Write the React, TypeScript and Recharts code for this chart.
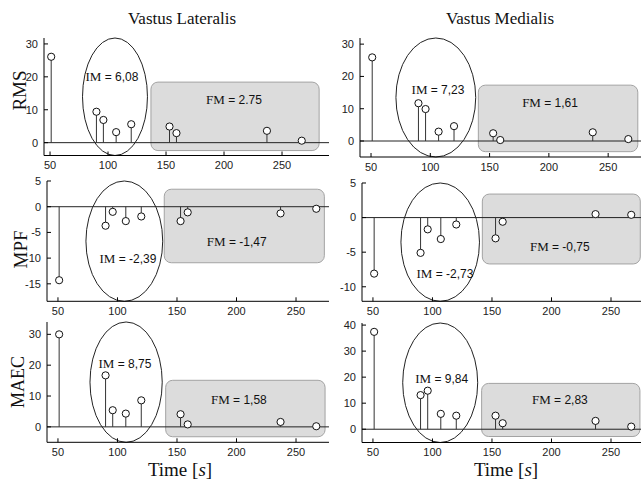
import React from "react";
import {
  ComposedChart,
  ReferenceArea,
  ReferenceDot,
  ReferenceLine,
  Scatter,
  XAxis,
  YAxis,
} from "recharts";

// time of each measurement [s]
const TIMES = [51, 90, 96, 107, 120, 153, 159, 237, 267];

const RMS_VL = [26.1, 9.4, 6.9, 3.2, 5.6, 4.9, 2.9, 3.6, 0.6];
const RMS_VM = [25.9, 11.7, 9.9, 2.9, 4.6, 2.4, 0.3, 2.7, 0.6];
const MPF_VL = [-14.3, -3.7, -1.0, -2.8, -1.9, -2.8, -1.1, -1.3, -0.4];
const MPF_VM = [-8.1, -5.1, -1.7, -3.1, -1.0, -3.0, -0.6, 0.5, 0.4];
const MAEC_VL = [30, 16.7, 5.4, 4.3, 8.6, 4.1, 0.8, 1.6, 0.2];
const MAEC_VM = [37.4, 13.1, 14.8, 5.9, 5.2, 5.2, 2.3, 3.2, 1.0];

const X_TICKS = [50, 100, 150, 200, 250];
const Y_TICKS_POS = [0, 10, 20, 30];
const Y_TICKS_MAEC_VM = [0, 10, 20, 30, 40];
const Y_TICKS_MPF_VL = [-15, -10, -5, 0, 5];
const Y_TICKS_MPF_VM = [-10, -5, 0, 5];

const IM_VALUES = ["6,08", "7,23", "-2,39", "-2,73", "8,75", "9,84"];
const FM_VALUES = ["2.75", "1,61", "-1,47", "-0,75", "1,58", "2,83"];

const SERIF = "'Liberation Serif', 'Times New Roman', serif";
const SANS = "'Liberation Sans', Arial, sans-serif";

type Box = { l: number; t: number; r: number; b: number };
type Panel = {
  values: number[];
  box: Box;
  xDom: [number, number];
  yDom: [number, number];
  yTicks: number[];
  ell: [number, number];
  rect: [number, number, number, number];
  imPos: [number, number];
  fmPos: [number, number];
  im: string;
  fm: string;
};

const PANELS: Panel[] = [
  {
    values: RMS_VL,
    box: { l: 44, t: 38, r: 329, b: 155.5 },
    xDom: [44.8, 290.5],
    yDom: [-3.9, 31.8],
    yTicks: Y_TICKS_POS,
    ell: [78, 134],
    rect: [137, 282, -2.4, 18.4],
    imPos: [103.4, 20],
    fmPos: [208.6, 13],
    im: IM_VALUES[0],
    fm: FM_VALUES[0],
  },
  {
    values: RMS_VM,
    box: { l: 360, t: 38, r: 641, b: 157 },
    xDom: [40.7, 277.7],
    yDom: [-4.95, 31.9],
    yTicks: Y_TICKS_POS,
    ell: [71, 138.3],
    rect: [140.5, 275, -3.3, 17.3],
    imPos: [106.5, 16.1],
    fmPos: [201, 11.8],
    im: IM_VALUES[1],
    fm: FM_VALUES[1],
  },
  {
    values: MPF_VL,
    box: { l: 47, t: 180.7, r: 329, b: 301 },
    xDom: [40.8, 277.7],
    yDom: [-18.4, 5],
    yTicks: Y_TICKS_MPF_VL,
    ell: [73.5, 138],
    rect: [139.3, 273.8, -10.9, 3.4],
    imPos: [108.8, -10],
    fmPos: [200.2, -6.7],
    im: IM_VALUES[2],
    fm: FM_VALUES[2],
  },
  {
    values: MPF_VM,
    box: { l: 362, t: 182.7, r: 641, b: 301 },
    xDom: [40.8, 275.2],
    yDom: [-12.1, 5],
    yTicks: Y_TICKS_MPF_VM,
    ell: [73.5, 139.5],
    rect: [141.9, 274.6, -6.7, 3.4],
    imPos: [110.5, -8.1],
    fmPos: [207, -4.1],
    im: IM_VALUES[3],
    fm: FM_VALUES[3],
  },
  {
    values: MAEC_VL,
    box: { l: 47, t: 321.7, r: 329, b: 442 },
    xDom: [40.8, 277.7],
    yDom: [-5, 34],
    yTicks: Y_TICKS_POS,
    ell: [76.9, 137.6],
    rect: [140.5, 274.4, -3.2, 15.1],
    imPos: [106.3, 20.5],
    fmPos: [202, 9],
    im: IM_VALUES[4],
    fm: FM_VALUES[4],
  },
  {
    values: MAEC_VM,
    box: { l: 362, t: 323, r: 641, b: 442.5 },
    xDom: [40.8, 275.2],
    yDom: [-5.1, 40.8],
    yTicks: Y_TICKS_MAEC_VM,
    ell: [75, 138],
    rect: [141.3, 274.3, -2.8, 17.6],
    imPos: [107.7, 19.5],
    fmPos: [207, 11.6],
    im: IM_VALUES[5],
    fm: FM_VALUES[5],
  },
];

const LeftTick = (p: any) => (
  <g>
    <line x1={p.x} x2={p.x + 4} y1={p.y} y2={p.y} stroke="#000" />
    <text x={p.x - 6} y={p.y} dy="0.35em" textAnchor="end" fontSize={11} fontFamily={SANS} fill="#222">
      {p.payload.value}
    </text>
  </g>
);
const RightTick = (p: any) => <line x1={p.x} x2={p.x - 4} y1={p.y} y2={p.y} stroke="#000" />;
const BottomTick = (p: any) => (
  <g>
    <line x1={p.x} x2={p.x} y1={p.y} y2={p.y - 4} stroke="#000" />
    <text x={p.x} y={p.y + 10} dy="0.35em" textAnchor="middle" fontSize={11} fontFamily={SANS} fill="#222">
      {p.payload.value}
    </text>
  </g>
);
const TopTick = (p: any) => <line x1={p.x} x2={p.x} y1={p.y} y2={p.y + 4} stroke="#000" />;

function Label({ cx, cy, name, value }: any) {
  return (
    <text x={cx} y={cy} dy="0.35em" textAnchor="middle" fontSize={13} fill="#111">
      <tspan fontFamily={SERIF}>{name}</tspan>
      <tspan fontFamily={SANS} fontSize={12}>{" = " + value}</tspan>
    </text>
  );
}

function StemPanel({ panel }: { panel: Panel }) {
  const { box } = panel;
  const width = box.r - box.l + 42;
  const height = box.b - box.t + 32;
  const data = TIMES.map((t, i) => ({ t, v: panel.values[i] }));
  return (
    <div style={{ position: "absolute", left: box.l - 40, top: box.t - 8 }}>
      <ComposedChart width={width} height={height} data={data} margin={{ top: 8, right: 2, bottom: 0, left: 0 }}>
        <XAxis
          dataKey="t"
          type="number"
          domain={panel.xDom}
          ticks={X_TICKS}
          interval={0}
          allowDataOverflow
          height={24}
          tickSize={0}
          tickMargin={0}
          tickLine={false}
          tick={BottomTick}
          axisLine={{ stroke: "#000" }}
        />
        <XAxis
          xAxisId="top"
          orientation="top"
          dataKey="t"
          type="number"
          domain={panel.xDom}
          ticks={X_TICKS}
          interval={0}
          allowDataOverflow
          height={0}
          tickSize={0}
          tickMargin={0}
          tickLine={false}
          tick={TopTick}
          axisLine={{ stroke: "#000" }}
        />
        <YAxis
          dataKey="v"
          type="number"
          domain={panel.yDom}
          ticks={panel.yTicks}
          interval={0}
          allowDataOverflow
          width={40}
          tickSize={0}
          tickMargin={0}
          tickLine={false}
          tick={LeftTick}
          axisLine={{ stroke: "#000" }}
        />
        <YAxis
          yAxisId="r"
          orientation="right"
          dataKey="v"
          type="number"
          domain={panel.yDom}
          ticks={panel.yTicks}
          interval={0}
          allowDataOverflow
          width={0}
          tickSize={0}
          tickMargin={0}
          tickLine={false}
          tick={RightTick}
          axisLine={{ stroke: "#000" }}
        />
        <ReferenceArea
          x1={panel.rect[0]}
          x2={panel.rect[1]}
          y1={panel.rect[2]}
          y2={panel.rect[3]}
          ifOverflow="visible"
          shape={(p: any) => (
            <rect x={p.x} y={p.y} width={p.width} height={p.height} rx={7} ry={7} fill="#dcdcdc" stroke="#a3a3a3" />
          )}
        />
        <ReferenceLine y={0} stroke="#222" ifOverflow="visible" />
        {data.map((d) => (
          <ReferenceLine
            key={d.t}
            segment={[
              { x: d.t, y: 0 },
              { x: d.t, y: d.v },
            ]}
            stroke="#333"
            ifOverflow="visible"
          />
        ))}
        <ReferenceArea
          x1={panel.ell[0]}
          x2={panel.ell[1]}
          y1={panel.yDom[0]}
          y2={panel.yDom[1]}
          ifOverflow="visible"
          shape={(p: any) => (
            <ellipse
              cx={p.x + p.width / 2}
              cy={p.y + p.height / 2}
              rx={p.width / 2}
              ry={p.height / 2}
              fill="none"
              stroke="#222"
            />
          )}
        />
        <Scatter
          dataKey="v"
          isAnimationActive={false}
          shape={(p: any) => <circle cx={p.cx} cy={p.cy} r={3.6} fill="#fff" stroke="#111" />}
        />
        <ReferenceDot
          x={panel.imPos[0]}
          y={panel.imPos[1]}
          r={0}
          ifOverflow="visible"
          shape={(p: any) => <Label cx={p.cx} cy={p.cy} name="IM" value={panel.im} />}
        />
        <ReferenceDot
          x={panel.fmPos[0]}
          y={panel.fmPos[1]}
          r={0}
          ifOverflow="visible"
          shape={(p: any) => <Label cx={p.cx} cy={p.cy} name="FM" value={panel.fm} />}
        />
      </ComposedChart>
    </div>
  );
}

export default function App() {
  return (
    <div
      style={{
        position: "absolute",
        left: 0,
        top: 0,
        width: 642,
        height: 481,
        overflow: "hidden",
        background: "#fff",
      }}
    >
      <svg width={642} height={481} style={{ position: "absolute", left: 0, top: 0 }}>
        <g fontFamily={SERIF} fill="#111">
          <text x={182} y={18} dy="0.35em" textAnchor="middle" fontSize={17}>
            Vastus Lateralis
          </text>
          <text x={500} y={18} dy="0.35em" textAnchor="middle" fontSize={17}>
            Vastus Medialis
          </text>
          <text transform="translate(19,90.5) rotate(-90)" dy="0.35em" textAnchor="middle" fontSize={19}>
            RMS
          </text>
          <text transform="translate(20,249.5) rotate(-90)" dy="0.35em" textAnchor="middle" fontSize={19}>
            MPF
          </text>
          <text transform="translate(18,382) rotate(-90)" dy="0.35em" textAnchor="middle" fontSize={18}>
            MAEC
          </text>
          <text x={180} y={469} dy="0.35em" textAnchor="middle" fontSize={19}>
            Time [<tspan fontStyle="italic">s</tspan>]
          </text>
          <text x={506} y={469} dy="0.35em" textAnchor="middle" fontSize={19}>
            Time [<tspan fontStyle="italic">s</tspan>]
          </text>
        </g>
      </svg>
      {PANELS.map((p, i) => (
        <StemPanel key={i} panel={p} />
      ))}
    </div>
  );
}
